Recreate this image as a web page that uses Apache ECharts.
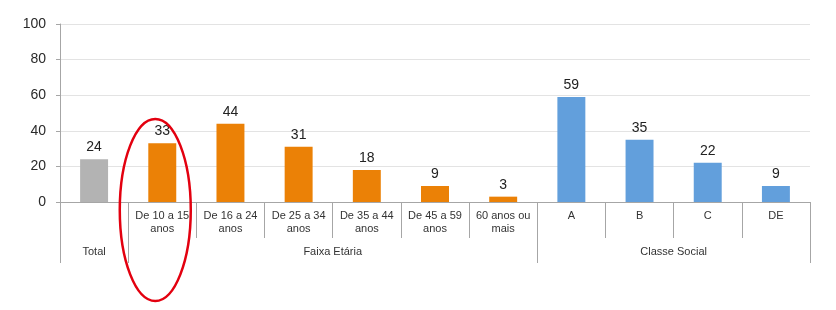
<!DOCTYPE html>
<html>
<head>
<meta charset="utf-8">
<script src="https://cdn.jsdelivr.net/npm/echarts@6/dist/echarts.min.js"></script>
<style>
html,body{margin:0;padding:0;background:#fff;}
#c{width:836px;height:310px;}
</style>
</head>
<body>
<div id="c"></div>
<script>
const categories = ['Total', 'De 10 a 15\nanos', 'De 16 a 24\nanos', 'De 25 a 34\nanos', 'De 35 a 44\nanos', 'De 45 a 59\nanos', '60 anos ou\nmais', 'A', 'B', 'C', 'DE'];
const values = [24, 33, 44, 31, 18, 9, 3, 59, 35, 22, 9];
const groupNames = ['Total', 'Faixa Etária', 'Classe Social'];
const groupSpans = [1, 6, 4];
const groupColors = ['#b3b3b3', '#eb8106', '#629fdc'];
const yTicks = [0, 20, 40, 60, 80, 100];
const highlightIndex = 1;

// derived: group start indices, colors per bar, half-step group label axis
const groupStarts = [];
const barColors = [];
let acc = 0;
groupSpans.forEach((s, g) => { groupStarts.push(acc); for (let k = 0; k < s; k++) barColors.push(groupColors[g]); acc += s; });
const halfLabels = new Array(categories.length * 2 + 1).fill('');
groupSpans.forEach((s, g) => { halfLabels[groupStarts[g] * 2 + s] = groupNames[g]; });

const chart = echarts.init(document.getElementById('c'), null, {renderer: 'canvas'});
const axisColor = '#a6a6a6';
const option = {
  animation: false,
  textStyle: {fontFamily: 'Liberation Sans, Arial, sans-serif'},
  grid: {left: 60, right: 26, top: 24, bottom: 108, containLabel: false},
  xAxis: [
    {
      type: 'category', data: categories, position: 'bottom', boundaryGap: true,
      axisLine: {show: true, lineStyle: {color: axisColor, width: 1}},
      axisTick: {show: true, interval: 0, length: 36, lineStyle: {color: axisColor, width: 1}},
      axisLabel: {interval: 0, fontSize: 11, color: '#333', lineHeight: 13, margin: 7,
        formatter: function (v) { return groupNames.indexOf(v) >= 0 ? '' : v; }},
      splitLine: {show: false}
    },
    {
      type: 'category', data: categories, position: 'bottom', boundaryGap: true,
      axisLine: {show: false},
      axisTick: {show: true, length: 61, lineStyle: {color: axisColor, width: 1}, interval: function (i) { return groupStarts.indexOf(i) >= 0; }},
      axisLabel: {show: false},
      splitLine: {show: false}
    },
    {
      type: 'category', data: halfLabels, position: 'bottom', boundaryGap: false, offset: 36,
      axisLine: {show: false}, axisTick: {show: false},
      axisLabel: {interval: 0, fontSize: 11, color: '#333', margin: 8},
      splitLine: {show: false}
    }
  ],
  yAxis: {
    type: 'value', min: yTicks[0], max: yTicks[yTicks.length - 1], interval: yTicks[1] - yTicks[0],
    axisLine: {show: true, lineStyle: {color: axisColor}},
    axisTick: {show: true, length: 4, lineStyle: {color: axisColor}},
    axisLabel: {fontSize: 14, color: '#2a2a2a', margin: 14},
    splitLine: {show: true, lineStyle: {color: '#e3e3e3'}}
  },
  series: [{
    type: 'bar', xAxisIndex: 0,
    barWidth: '41%',
    data: values.map((v, i) => ({value: v, itemStyle: {color: barColors[i]}})),
    label: {show: true, position: 'top', distance: 5, fontSize: 14, color: '#222'}
  }]
};
chart.setOption(option);

// highlight ellipse around the chosen category
const px = chart.convertToPixel({xAxisIndex: 0}, highlightIndex);
const py0 = chart.convertToPixel({yAxisIndex: 0}, 0);
chart.setOption({
  graphic: [{
    type: 'ellipse', z: 100,
    shape: {cx: px - 7, cy: py0 + 8, rx: 35.5, ry: 91},
    style: {fill: 'none', stroke: '#e3000f', lineWidth: 2.5}
  }]
});
</script>
</body>
</html>
